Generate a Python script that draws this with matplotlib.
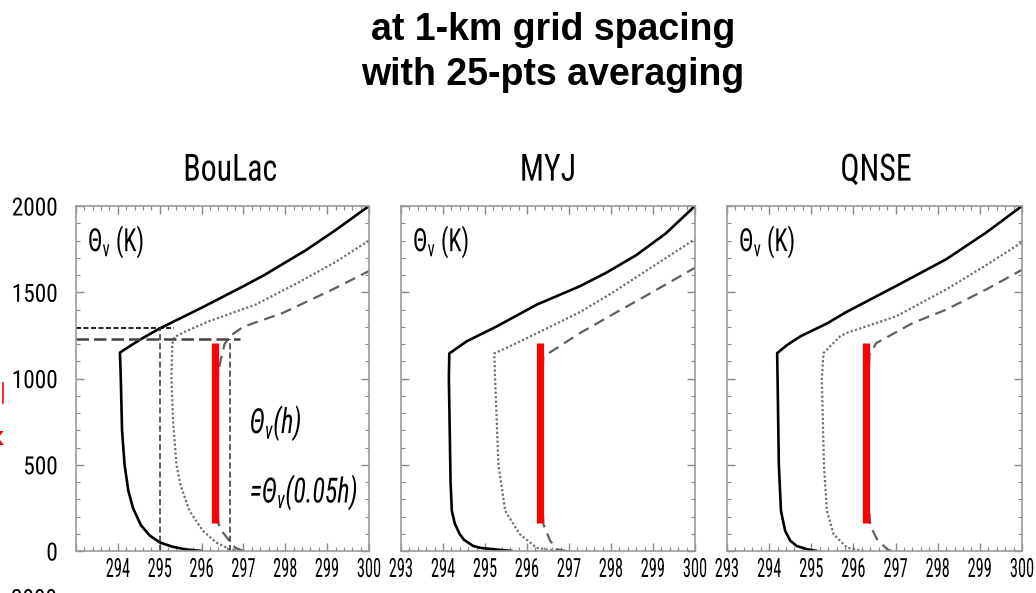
import matplotlib
matplotlib.use("Agg")
import matplotlib.pyplot as plt
from matplotlib import font_manager
from matplotlib.ft2font import FT2Font
from matplotlib.lines import Line2D
from matplotlib.patheffects import AbstractPathEffect
from matplotlib.transforms import Affine2D
from matplotlib.ticker import MultipleLocator


def find_font(name, style="normal"):
    for f in font_manager.fontManager.ttflist:
        if f.name == name and f.style == style:
            return f
    return None


def has_theta(name):
    f = find_font(name)
    if f is None:
        return False
    try:
        return FT2Font(f.fname).get_char_index(ord("Θ")) != 0
    except Exception:
        return False


class Squeeze(AbstractPathEffect):
    """draw the text narrower, like the squashed lettering of the original"""

    def __init__(self, sx, anchor="center"):
        super().__init__()
        self.sx = sx
        self.anchor = anchor

    def draw_path(self, renderer, gc, tpath, affine, rgbFace=None):
        ext = tpath.get_extents()
        a = {"left": ext.x0, "right": ext.x1, "center": (ext.x0 + ext.x1) / 2}[self.anchor]
        sq = Affine2D().translate(-a, 0).scale(self.sx, 1).translate(a, 0)
        renderer.draw_path(gc, tpath, sq + affine, rgbFace)


prefs = ["Roboto Condensed", "Open Sans Condensed", "Fira Sans Condensed", "IBM Plex Sans Condensed",
         "Liberation Sans Narrow", "Archivo Narrow", "Asap Condensed", "Barlow Condensed"]
narrow = next((n for n in prefs if has_theta(n)), None) or next((n for n in prefs if find_font(n)), "DejaVu Sans")
wide = "Liberation Sans" if find_font("Liberation Sans") else "DejaVu Sans"

plt.rcParams["mathtext.fontset"] = "custom"
plt.rcParams["mathtext.rm"] = narrow
plt.rcParams["mathtext.it"] = narrow + ":italic"
plt.rcParams["mathtext.sf"] = narrow + ":italic"

schemes = ["BouLac", "MYJ", "QNSE"]

# virtual potential temperature profiles (K) vs height (m)
boulac_solid_x = [296.0, 295.6, 295.3, 295.0, 294.76, 294.55, 294.36, 294.25, 294.16, 294.1, 294.07, 294.05,
                  294.3, 294.6, 295.0, 296.0, 297.0, 297.5, 298.5, 299.2, 300.0]
boulac_solid_y = [0, 10, 25, 50, 90, 150, 250, 350, 500, 700, 1000, 1150,
                  1190, 1235, 1290, 1410, 1535, 1600, 1745, 1860, 2000]
boulac_dot_x = [297.0, 296.67, 296.35, 296.03, 295.71, 295.5, 295.4, 295.32, 295.28, 295.3, 295.35,
                295.62, 296.17, 296.73, 297.29, 298.3, 299.2, 300.0]
boulac_dot_y = [0, 10, 49, 117, 233, 380, 500, 750, 1000, 1200, 1240,
                1273, 1331, 1380, 1428, 1555, 1675, 1800]
boulac_dash_x = [297.0, 296.8, 296.67, 296.5, 296.4, 296.35, 296.35, 296.38, 296.45, 296.55, 296.7,
                 297.0, 297.94, 299.13, 300.0]
boulac_dash_y = [0, 20, 58, 110, 160, 400, 800, 1000, 1100, 1200, 1250,
                 1300, 1380, 1516, 1623]

myj_solid_x = [295.63, 295.2, 294.9, 294.72, 294.5, 294.4, 294.28, 294.21, 294.18, 294.16, 294.14, 294.15,
               294.56, 295.28, 296.23, 297.26, 297.9, 298.6, 299.3, 300.0]
myj_solid_y = [0, 10, 18, 29, 65, 97, 160, 233, 400, 700, 1000, 1145,
               1215, 1302, 1428, 1535, 1615, 1715, 1840, 2000]
myj_dot_x = [296.7, 296.23, 295.83, 295.48, 295.32, 295.24, 295.22, 295.67, 296.47, 297.3, 298.05, 299.0, 300.0]
myj_dot_y = [0, 19, 97, 233, 500, 1000, 1145, 1196, 1290, 1390, 1500, 1650, 1808]
myj_dash_x = [296.95, 296.71, 296.55, 296.39, 296.35, 296.35, 296.37, 296.39, 296.64, 297.26, 298.05, 298.85, 300.0]
myj_dash_y = [0, 10, 60, 155, 400, 800, 1050, 1127, 1166, 1263, 1373, 1482, 1642]

qnse_solid_x = [295.13, 294.9, 294.655, 294.5, 294.38, 294.28, 294.23, 294.2, 294.19,
                294.43, 294.74, 295.38, 295.83, 297.01, 298.2, 299.15, 300.0]
qnse_solid_y = [0, 10, 29, 60, 117, 233, 500, 1000, 1147,
                1195, 1244, 1320, 1385, 1536, 1691, 1846, 2000]
qnse_dot_x = [296.24, 295.85, 295.53, 295.37, 295.3, 295.25, 295.29, 295.68, 295.83, 296.3, 297.01, 298.2,
              299.15, 300.0]
qnse_dot_y = [0, 19, 97, 233, 500, 1000, 1147, 1244, 1263, 1302, 1360, 1516, 1657, 1790]
qnse_dash_x = [296.9, 296.8, 296.56, 296.4, 296.33, 296.33, 296.36, 296.38, 296.54, 297.41, 298.2, 299.15, 300.0]
qnse_dash_y = [0, 10, 68, 146, 400, 800, 1000, 1137, 1205, 1322, 1399, 1516, 1630]

solids = [(boulac_solid_x, boulac_solid_y), (myj_solid_x, myj_solid_y), (qnse_solid_x, qnse_solid_y)]
dots = [(boulac_dot_x, boulac_dot_y), (myj_dot_x, myj_dot_y), (qnse_dot_x, qnse_dot_y)]
dashes = [(boulac_dash_x, boulac_dash_y), (myj_dash_x, myj_dash_y), (qnse_dash_x, qnse_dash_y)]

# red bars
bar_x = [296.32, 296.32, 296.30]
bar_bottom = 160
bar_top = 1207

# BouLac guide lines
guide_h_y = [1295, 1230]
guide_h_xend = [295.35, 296.93]
guide_v_x = [295.0, 296.67]

W, H = 1036, 593
fig = plt.figure(figsize=(W / 100, H / 100), dpi=100)

fig.text(553 / W, 1 - 30 / H, "at 1-km grid spacing", ha="center", va="center",
         fontsize=27, fontweight="bold", family=wide)
fig.text(553 / W, 1 - 75 / H, "with 25-pts averaging", ha="center", va="center",
         fontsize=27, fontweight="bold", family=wide)

lefts = [76, 401, 727]
widths = [293, 294, 295]
title_x = [0.526, 0.5, 0.505]
top, bottom = 206, 551

for i, name in enumerate(schemes):
    ax = fig.add_axes([lefts[i] / W, 1 - bottom / H, widths[i] / W, (bottom - top) / H])
    ax.plot(*solids[i], color="black", lw=1.9)
    ax.plot(*dots[i], color="#707070", lw=1.6, linestyle=(0, (1, 1)))
    ax.plot(*dashes[i], color="#606060", lw=1.6, linestyle=(0, (5, 3)))
    ax.plot([bar_x[i], bar_x[i]], [bar_bottom, bar_top], color="red", lw=5.2, solid_capstyle="butt")

    if i == 0:
        ax.plot([293, guide_h_xend[0]], [guide_h_y[0]] * 2, color="black", lw=1.2, linestyle=(0, (3, 1.5)))
        ax.plot([293, guide_h_xend[1]], [guide_h_y[1]] * 2, color="#444444", lw=1.8, linestyle=(0, (5, 2)))
        for gx, gy in zip(guide_v_x, guide_h_y):
            ax.plot([gx, gx], [0, gy], color="#333333", lw=1.1, linestyle=(0, (4, 2)))
        t1 = ax.text(297.14, 682, r"$\mathsf{Θ}_{\mathsf{v}}\mathsf{(h)}$", fontsize=25,
                     family=narrow, style="italic", va="baseline")
        t2 = ax.text(297.14, 280, r"=$\mathsf{Θ}_{\mathsf{v}}\mathsf{(0.05h)}$", fontsize=25,
                     family=narrow, style="italic", va="baseline")
        for t in (t1, t2):
            t.set_path_effects([Squeeze(0.75, "left")])

    tk = ax.text(293.28, 1737, r"$\Theta_\mathrm{v}$ (K)", fontsize=23, family=narrow, va="baseline")
    tk.set_path_effects([Squeeze(0.75, "left")])
    tt = ax.text(title_x[i], 1.104, name, transform=ax.transAxes, ha="center", va="center",
                 fontsize=27, family=narrow)
    tt.set_path_effects([Squeeze(0.85, "center")])

    ax.set_xlim(293, 300)
    ax.set_ylim(0, 2000)
    ax.set_xticks(range(293, 301))
    ax.set_yticks([0, 500, 1000, 1500, 2000])
    ax.xaxis.set_minor_locator(MultipleLocator(0.2))
    ax.yaxis.set_minor_locator(MultipleLocator(100))
    ax.tick_params(which="both", direction="in", top=True, right=True, color="#888888",
                   labelfontfamily=narrow)
    ax.tick_params(which="major", length=6, width=1)
    ax.tick_params(which="minor", length=3, width=0.8)
    ax.tick_params(axis="x", pad=5, labelsize=19)
    ax.tick_params(axis="y", pad=13, labelsize=18)
    if i == 0:
        ax.set_xticklabels([""] + [str(t) for t in range(294, 301)])
    else:
        ax.set_yticklabels([])
    for lbl in ax.get_xticklabels():
        lbl.set_path_effects([Squeeze(0.62, "center")])
    for lbl in ax.get_yticklabels():
        lbl.set_path_effects([Squeeze(0.93, "right")])
    for s in ax.spines.values():
        s.set_color("#999999")
        s.set_linewidth(1.2)

# bits cut off at the edges of the original picture
tb = fig.text(34 / W, 1 - 588 / H, "2000", ha="center", va="top", fontsize=18, family=narrow)
tb.set_path_effects([Squeeze(0.93, "center")])
fig.add_artist(Line2D([3 / W, 3 / W], [1 - 383 / H, 1 - 403 / H], color="red", lw=1.2))
fig.text(-4 / W, 1 - 438 / H, "x", color="red", fontsize=18, fontweight="bold", ha="center", va="center")

fig.savefig("out.png", dpi=100)
